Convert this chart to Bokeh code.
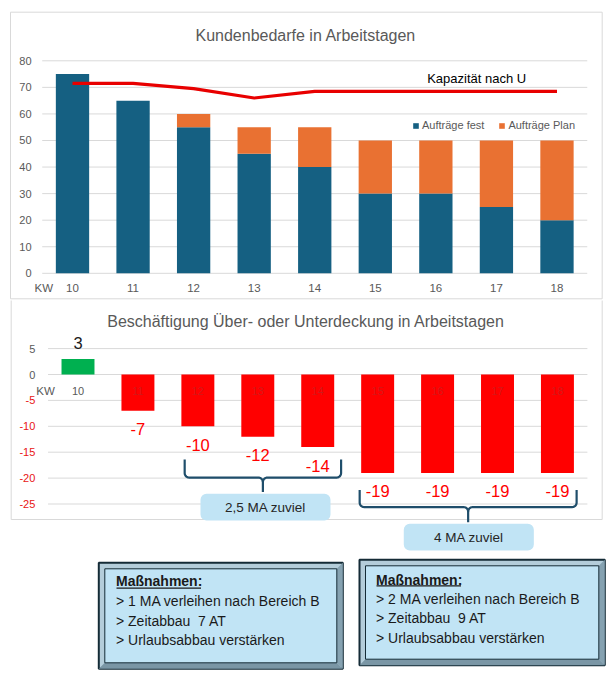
import numpy as np
from bokeh.plotting import figure
from bokeh.models import (ColumnDataSource, Range1d, Label, LabelSet,
                          BoxAnnotation, PolyAnnotation, Legend, LegendItem)
from bokeh.layouts import column
from bokeh.embed import file_html
from bokeh.resources import INLINE
from bokeh.core.properties import value

# ---------------- data ----------------
kw = [10, 11, 12, 13, 14, 15, 16, 17, 18]
auftraege_fest = [75, 65, 55, 45, 40, 30, 30, 25, 20]
auftraege_plan = [0, 0, 5, 10, 15, 20, 20, 25, 30]
kapazitaet = [71.5, 71.5, 69.5, 66, 68.5, 68.5, 68.5, 68.5, 68.5]
top_y_ticks = [0, 10, 20, 30, 40, 50, 60, 70, 80]

deckung = [3, -7, -10, -12, -14, -19, -19, -19, -19]
bottom_y_ticks = [5, 0, -5, -10, -15, -20, -25]

bracket_groups = [(12, 14), (15, 18)]
bracket_texts = ["2,5 MA zuviel", "4 MA zuviel"]
massnahmen_1 = ["Maßnahmen:", "> 1 MA verleihen nach Bereich B", "> Zeitabbau\u00a0 7 AT", "> Urlaubsabbau verstärken"]
massnahmen_2 = ["Maßnahmen:", "> 2 MA verleihen nach Bereich B", "> Zeitabbau\u00a0 9 AT", "> Urlaubsabbau verstärken"]

# ---------------- style ----------------
FONT = "Liberation Sans"
GRAY = "#595959"
GRID = "#d9d9d9"
BLUE = "#156082"
ORANGE = "#E97132"
GREEN = "#00B050"
RED = "#FF0000"
TICK_RED = "#E81414"
LINE_RED = "#E80000"
BOXFILL = "#C1E4F5"
BRACE = "#1F4E6B"
DARK = "#142B36"
W = 613
H1, H2 = 300, 374

SU = dict(left_units="screen", right_units="screen", top_units="screen", bottom_units="screen")


def bare_figure(h, xr, yr):
    p = figure(width=W, height=h, x_range=xr, y_range=yr, title=None,
               x_axis_location=None, y_axis_location=None,
               output_backend="svg", toolbar_location=None,
               min_border_left=0, min_border_right=0, min_border_top=0, min_border_bottom=0)
    p.outline_line_color = None
    p.xgrid.grid_line_color = None
    p.ygrid.grid_line_color = None
    return p


# ======================= top chart =======================
PXW1 = 60.56           # px per week
PXY1 = 212.5 / 80      # px per unit
X0_1 = 10 - 72.0 / PXW1
Y1_TOP = 272.8 / PXY1
p1 = bare_figure(H1, Range1d(X0_1, X0_1 + W / PXW1),
                 Range1d(Y1_TOP - H1 / PXY1, Y1_TOP))

# chart border
p1.add_layout(BoxAnnotation(left=10, right=601.7, bottom=1.7, top=288.3, **SU,
                            fill_alpha=0, line_color=GRID, line_alpha=1, line_width=1,
                            level="underlay"))
# gridlines
p1.segment(x0=[kw[0] - 0.5] * len(top_y_ticks), x1=[kw[-1] + 0.5] * len(top_y_ticks),
           y0=top_y_ticks, y1=top_y_ticks, line_color=GRID, line_width=1, level="underlay")
# y tick labels
p1.add_layout(LabelSet(x=kw[0] - 0.5, y="y", text="t", x_offset=-10.7,
                       source=ColumnDataSource(dict(y=top_y_ticks, t=[str(t) for t in top_y_ticks])),
                       text_align="right", text_baseline="middle", text_color=GRAY,
                       text_font=value(FONT), text_font_size="11px"))

src1 = ColumnDataSource(dict(kw=kw, fest=auftraege_fest, plan=auftraege_plan, kap=kapazitaet,
                             t=[str(k) for k in kw], zero=[0] * len(kw)))
stack = p1.vbar_stack(["fest", "plan"], x="kw", width=0.55, fill_color=[BLUE, ORANGE],
                      line_color=None, source=src1)
p1.line(x="kw", y="kap", source=src1, line_color=LINE_RED, line_width=3.2)

# x tick labels
p1.add_layout(LabelSet(x="kw", y="zero", text="t", y_offset=-14.5, source=src1,
                       text_align="center", text_baseline="middle", text_color=GRAY,
                       text_font=value(FONT), text_font_size="11.5px"))
p1.add_layout(Label(x=43.3, y=0, x_units="screen", y_offset=-14.5, text="KW",
                    text_align="center", text_baseline="middle", text_font=FONT,
                    text_font_size="11.5px", text_color=GRAY))

legend = Legend(items=[LegendItem(label="Aufträge fest", renderers=[stack[0]]),
                       LegendItem(label="Aufträge Plan", renderers=[stack[1]])],
                location=(412, 168.7), orientation="horizontal",
                label_text_font=FONT, label_text_font_size="11px", label_text_color=GRAY,
                glyph_width=7, glyph_height=7, label_height=12, label_standoff=3,
                spacing=14, padding=0, margin=0, background_fill_alpha=0,
                border_line_color=None)
p1.add_layout(legend)

p1.add_layout(Label(x=305.3, y=265, x_units="screen", y_units="screen",
                    text="Kundenbedarfe in Arbeitstagen", text_align="center",
                    text_baseline="middle", text_font=FONT, text_font_size="16px",
                    text_color=GRAY))
p1.add_layout(Label(x=426.7, y=221.7, x_units="screen", y_units="screen",
                    text="Kapazität nach U", text_align="left", text_baseline="middle",
                    text_font=FONT, text_font_size="13px", text_color="#000000"))

# ======================= bottom chart =======================
PXW2 = 59.93
PXY2 = 5.18
X0_2 = 10 - 77.5 / PXW2
Y2_TOP = 74 / PXY2
p2 = bare_figure(H2, Range1d(X0_2, X0_2 + W / PXW2),
                 Range1d(Y2_TOP - H2 / PXY2, Y2_TOP))

# chart border
p2.add_layout(BoxAnnotation(left=10.7, right=601.7, bottom=155, top=380, **SU,
                            fill_alpha=0, line_color=GRID, line_alpha=1, line_width=1,
                            level="underlay"))
p2.segment(x0=[kw[0] - 0.5] * len(bottom_y_ticks), x1=[kw[-1] + 0.5] * len(bottom_y_ticks),
           y0=bottom_y_ticks, y1=bottom_y_ticks, line_color=GRID, line_width=1, level="underlay")

bar_colors = [GREEN if v >= 0 else RED for v in deckung]
src2 = ColumnDataSource(dict(kw=kw, v=deckung, c=bar_colors,
                             t=[str(k) for k in kw],
                             txt=[str(v) for v in deckung],
                             tc=["#1a1a1a" if v >= 0 else RED for v in deckung],
                             off=[16 if v >= 0 else -18.5 for v in deckung],
                             zero=[0] * len(kw),
                             la=[1.0 if v >= 0 else 0.28 for v in deckung]))
p2.vbar(x="kw", top="v", bottom=0, width=0.55, fill_color="c", line_color=None, source=src2)

tick_src = ColumnDataSource(dict(y=bottom_y_ticks, t=[str(t) for t in bottom_y_ticks],
                                 c=[GRAY if t >= 0 else TICK_RED for t in bottom_y_ticks]))
p2.add_layout(LabelSet(x=kw[0] - 0.5, y="y", text="t", x_offset=-12.7, source=tick_src,
                       text_align="right", text_baseline="middle", text_color="c",
                       text_font=value(FONT), text_font_size="11px"))
p2.add_layout(LabelSet(x="kw", y="zero", text="t", source=src2, y_offset=-16,
                       text_align="center", text_baseline="middle", text_color=GRAY,
                       text_alpha="la", text_font=value(FONT), text_font_size="11px"))
p2.add_layout(Label(x=45, y=0, x_units="screen", y_offset=-16, text="KW",
                    text_align="center", text_baseline="middle", text_font=FONT,
                    text_font_size="11.5px", text_color=GRAY))
p2.add_layout(LabelSet(x="kw", y="v", text="txt", source=src2, y_offset="off",
                       text_align="center", text_baseline="middle", text_color="tc",
                       text_font=value(FONT), text_font_size="16.5px"))
p2.add_layout(Label(x=305.5, y=353, x_units="screen", y_units="screen",
                    text="Beschäftigung Über- oder Unterdeckung in Arbeitstagen",
                    text_align="center", text_baseline="middle", text_font=FONT,
                    text_font_size="16px", text_color=GRAY))


# braces
def brace(xl, xr, yt, ym, ytip, rpx=4.5):
    rx = rpx / PXW2
    ry = rpx / PXY2
    xc = (xl + xr) / 2
    a = np.linspace(np.pi, 1.5 * np.pi, 8)
    b = np.linspace(0.5 * np.pi, 0, 8)
    lx = [xl] + list(xl + rx + rx * np.cos(a)) + list(xc - rx + rx * np.cos(b)) + [xc]
    ly = [yt] + list(ym + ry + ry * np.sin(a)) + list(ym - ry + ry * np.sin(b)) + [ytip]
    rxs = [xr] + list(xr - rx - rx * np.cos(a)) + list(xc + rx - rx * np.cos(b))
    rys = [yt] + list(ym + ry + ry * np.sin(a)) + list(ym - ry + ry * np.sin(b))
    return [lx, rxs], [ly, rys]


brace_specs = [(bracket_groups[0][0] - 0.22, bracket_groups[0][1] + 0.39, -16.4, -19.9, -22.7),
               (bracket_groups[1][0] - 0.30, bracket_groups[1][1] + 0.32, -22.3, -25.6, -28.5)]
bx, by = [], []
for spec in brace_specs:
    xs, ys = brace(*spec)
    bx += xs
    by += ys
p2.multi_line(xs=bx, ys=by, line_color=BRACE, line_width=2.2)

box_specs = [(12.044, 14.213, -28.19, -23.03), (15.436, 17.606, -33.98, -28.82)]
for (l, r, b, t), txt in zip(box_specs, bracket_texts):
    p2.add_layout(BoxAnnotation(left=l, right=r, bottom=b, top=t, fill_color=BOXFILL,
                                fill_alpha=1, line_alpha=0, border_radius=6))
    p2.add_layout(Label(x=(l + r) / 2, y=(b + t) / 2, text=txt, text_align="center",
                        text_baseline="middle", text_font=FONT, text_font_size="13.5px",
                        text_color="#262626"))


# Massnahmen boxes (screen units)
def massnahmen_box(p, l, r, b, t, xt, ys, uy, lines):
    p.add_layout(BoxAnnotation(left=l, right=r, bottom=b, top=t, fill_color="#B4CDDA",
                               fill_alpha=1, line_color=DARK, line_alpha=1, line_width=2, **SU))
    d = 6
    p.add_layout(PolyAnnotation(xs=[r, r, r - d, r - d], ys=[t, b, b + d, t - d],
                                xs_units="screen", ys_units="screen",
                                fill_color="#86A2B1", fill_alpha=1, line_alpha=0))
    p.add_layout(PolyAnnotation(xs=[l, r, r - d, l + d], ys=[b, b, b + d, b + d],
                                xs_units="screen", ys_units="screen",
                                fill_color="#7A96A5", fill_alpha=1, line_alpha=0))
    p.add_layout(BoxAnnotation(left=l + d, right=r - d, bottom=b + d, top=t - d,
                               fill_color=BOXFILL, fill_alpha=1, line_color=DARK,
                               line_alpha=1, line_width=1, **SU))
    for i, (txt, y) in enumerate(zip(lines, ys)):
        p.add_layout(Label(x=xt, y=y, x_units="screen", y_units="screen", text=txt,
                           text_align="left", text_baseline="middle", text_font=FONT,
                           text_font_size="14px", text_color="#1a1a1a",
                           text_font_style="bold" if i == 0 else "normal"))
    p.add_layout(BoxAnnotation(left=xt + 0.5, right=xt + 85, bottom=uy - 0.6, top=uy + 0.6,
                               fill_color="#1a1a1a", fill_alpha=1, line_alpha=0, **SU))


massnahmen_box(p2, 98.3, 342.3, 5.7, 111.7, 115.5, [93.3, 73.2, 54, 34.5], 86.3, massnahmen_1)
massnahmen_box(p2, 359, 604.3, 9.3, 114.7, 375.5, [95, 75.5, 56.2, 36.7], 88.7, massnahmen_2)

layout = column(p1, p2, spacing=0)
open("out.html", "w").write(file_html(layout, INLINE))
